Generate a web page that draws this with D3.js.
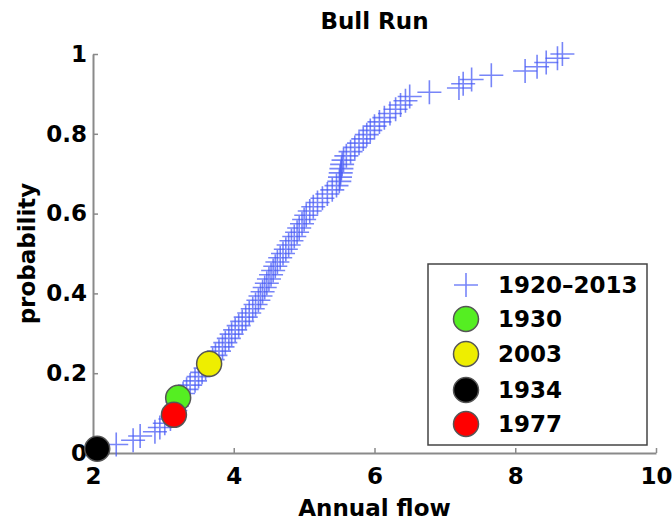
<!DOCTYPE html>
<html>
<head>
<meta charset="utf-8">
<script src="https://cdn.jsdelivr.net/npm/d3@7"></script>
<style>
  html, body { margin: 0; padding: 0; background: #fff; }
  svg { display: block; }
  text { font-family: "DejaVu Sans", Verdana, sans-serif; font-weight: bold; fill: #000; }
</style>
</head>
<body>
<svg id="chart" width="672" height="522"></svg>
<script>
// Sorted annual flows, Bull Run 1920–2013 (one value per year, ascending)
const flows = [
  2.06, 2.33, 2.57, 2.67, 2.88, 2.95, 3.02, 3.10, 3.15, 3.17,
  3.19, 3.20, 3.21, 3.28, 3.33, 3.38, 3.45, 3.50, 3.55, 3.60,
  3.65, 3.70, 3.74, 3.79, 3.84, 3.88, 3.93, 3.97, 4.02, 4.07,
  4.12, 4.17, 4.22, 4.27, 4.31, 4.35, 4.38, 4.41, 4.44, 4.47,
  4.50, 4.53, 4.56, 4.59, 4.62, 4.66, 4.70, 4.74, 4.78, 4.82,
  4.86, 4.90, 4.93, 4.97, 5.00, 5.03, 5.08, 5.13, 5.19, 5.26,
  5.33, 5.40, 5.46, 5.50, 5.51, 5.52, 5.53, 5.54, 5.56, 5.60,
  5.66, 5.72, 5.78, 5.84, 5.89, 5.94, 6.00, 6.07, 6.14, 6.22,
  6.30, 6.37, 6.44, 6.50, 6.78, 7.20, 7.26, 7.38, 7.66, 8.14,
  8.31, 8.44, 8.60, 8.67
];

// Highlighted years: flow and their rank in the sorted record
const highlightYears = ["1930", "2003", "1934", "1977"];
const highlightFlows = [3.21, 3.65, 2.06, 3.15];
const highlightRanks = [13, 21, 1, 9];
const highlightColors = ["#55ee22", "#eeee00", "#000000", "#ff0000"];

const xTicks = [2, 4, 6, 8, 10];
const yTicks = [0, 0.2, 0.4, 0.6, 0.8, 1];
const seriesLabel = "1920–2013";

const n = flows.length;
const probs = flows.map((_, i) => (i + 1) / n);

const svg = d3.select("#chart");
const plotL = 93, plotR = 656, plotT = 54, plotB = 453;
const fontSize = 23;

const x = d3.scaleLinear().domain([2, 10]).range([plotL, plotR]);
const y = d3.scaleLinear().domain([0, 1]).range([plotB, plotT]);

const axisColor = "#8a8a8a";

// Axes (ticks pointing inward)
const xAxis = svg.append("g").attr("transform", `translate(0,${plotB})`)
  .call(d3.axisBottom(x).tickValues(xTicks).tickSizeInner(-5).tickSizeOuter(0).tickPadding(15).tickFormat(d3.format("d")));
const yAxis = svg.append("g").attr("transform", `translate(${plotL},0)`)
  .call(d3.axisLeft(y).tickValues(yTicks).tickSizeInner(-5).tickSizeOuter(0).tickPadding(6).tickFormat(d => d === 0 || d === 1 ? String(d) : d3.format(".1f")(d)));

[xAxis, yAxis].forEach(g => {
  g.select(".domain").attr("stroke", axisColor).attr("stroke-width", 2);
  g.selectAll(".tick line").attr("stroke", axisColor).attr("stroke-width", 1.5);
  g.selectAll(".tick text").attr("font-size", fontSize).attr("fill", "#000")
    .attr("font-family", '"DejaVu Sans", Verdana, sans-serif').attr("font-weight", "bold");
});
xAxis.selectAll(".tick text").attr("dy", "0.71em");

// Plus markers for each year
const plusHalf = 12;
const plusColor = "#4a5cf5";
const pts = svg.append("g").attr("stroke", plusColor).attr("stroke-width", 1.6).attr("stroke-opacity", 0.75).attr("fill", "none");
pts.selectAll("path").data(flows).join("path")
  .attr("d", (d, i) => {
    const cx = x(d), cy = y(probs[i]);
    return `M${cx - plusHalf},${cy}H${cx + plusHalf}M${cx},${cy - plusHalf}V${cy + plusHalf}`;
  });

// Highlighted years
const hi = highlightYears.map((yr, k) => ({ yr, f: highlightFlows[k], p: highlightRanks[k] / n, c: highlightColors[k] }));
svg.append("g").selectAll("circle").data(hi).join("circle")
  .attr("cx", d => x(d.f)).attr("cy", d => y(d.p)).attr("r", 12.5)
  .attr("fill", d => d.c).attr("stroke", "#555").attr("stroke-width", 1.5);

// Title and axis labels
svg.append("text").attr("x", (plotL + plotR) / 2).attr("y", 29).attr("text-anchor", "middle").attr("font-size", fontSize).text("Bull Run");
svg.append("text").attr("x", (plotL + plotR) / 2).attr("y", 516).attr("text-anchor", "middle").attr("font-size", fontSize).text("Annual flow");
svg.append("text").attr("transform", `translate(35,${(plotT + plotB) / 2}) rotate(-90)`).attr("text-anchor", "middle").attr("font-size", fontSize).text("probability");

// Legend
const lg = svg.append("g");
lg.append("rect").attr("x", 428).attr("y", 264).attr("width", 219).attr("height", 181)
  .attr("fill", "#fff").attr("stroke", "#444").attr("stroke-width", 1.5);
const rowY = [285, 319, 354, 390, 424];
const markX = 466, textX = 498;
lg.append("path").attr("d", `M${markX - plusHalf},${rowY[0]}H${markX + plusHalf}M${markX},${rowY[0] - plusHalf}V${rowY[0] + plusHalf}`)
  .attr("stroke", plusColor).attr("stroke-width", 1.6).attr("stroke-opacity", 0.75);
lg.append("text").attr("x", textX).attr("y", rowY[0]).attr("dy", "0.36em").attr("font-size", fontSize).text(seriesLabel);
hi.forEach((d, k) => {
  lg.append("circle").attr("cx", markX).attr("cy", rowY[k + 1]).attr("r", 12.5)
    .attr("fill", d.c).attr("stroke", "#555").attr("stroke-width", 1.5);
  lg.append("text").attr("x", textX).attr("y", rowY[k + 1]).attr("dy", "0.36em").attr("font-size", fontSize).text(d.yr);
});
</script>
</body>
</html>
